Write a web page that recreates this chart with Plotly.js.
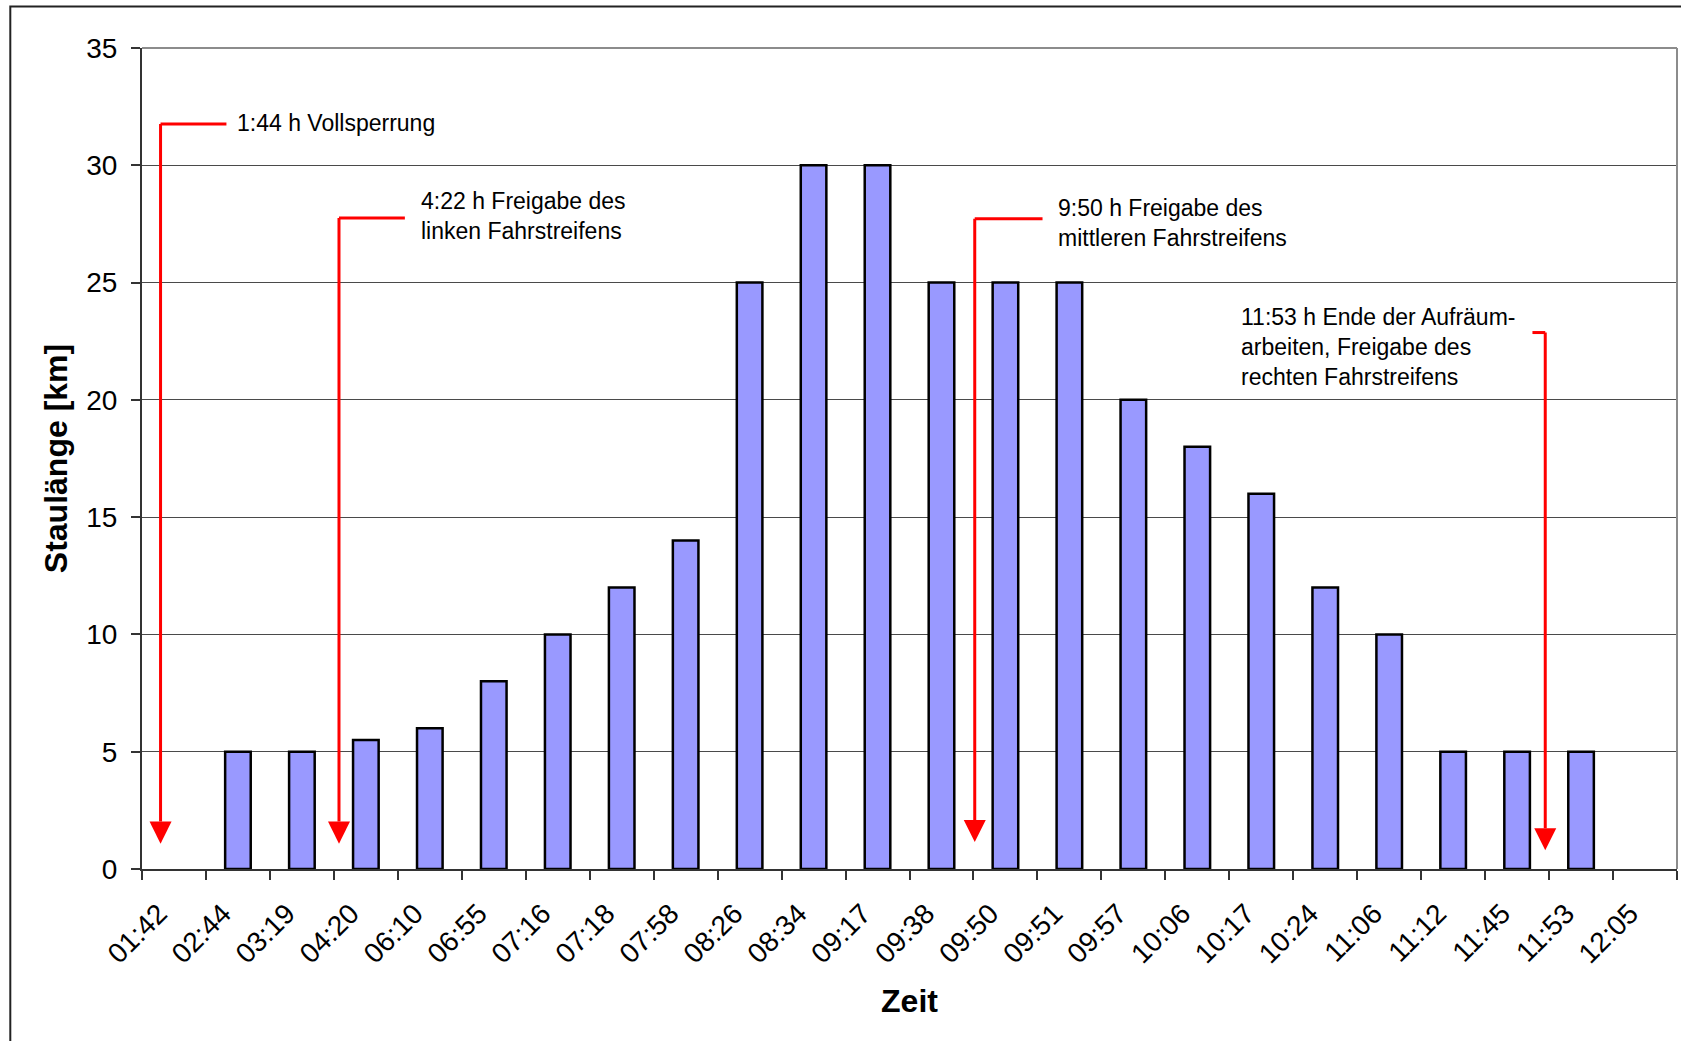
<!DOCTYPE html>
<html>
<head>
<meta charset="utf-8">
<script src="https://cdn.plot.ly/plotly-3.0.1.min.js"></script>
<style>
  html, body { margin: 0; padding: 0; background: #ffffff; }
  #chart { width: 1681px; height: 1041px; }
</style>
</head>
<body>
<div id="chart"></div>
<script>
// ---- data ----
const zeiten = ["01:42","02:44","03:19","04:20","06:10","06:55","07:16","07:18","07:58","08:26",
                "08:34","09:17","09:38","09:50","09:51","09:57","10:06","10:17","10:24","11:06",
                "11:12","11:45","11:53","12:05"];
const staulaenge = [null,5,5,5.5,6,8,10,12,14,25,30,30,25,25,25,20,18,16,12,10,5,5,5,null];

// callout texts and where they point (category index scale, km scale)
const calloutTexts = [
  "1:44 h Vollsperrung",
  "4:22 h Freigabe des<br>linken Fahrstreifens",
  "9:50 h Freigabe des<br>mittleren Fahrstreifens",
  "11:53 h Ende der Aufräum-<br>arbeiten, Freigabe des<br>rechten Fahrstreifens"
];
const calloutArrowX = [-0.21, 2.58, 12.52, 21.44];
const calloutElbowX = [0.82, 3.61, 13.58, 21.24];
const calloutTopY   = [31.76, 27.75, 27.72, 22.87];
const calloutTipY   = [1.08, 1.08, 1.15, 0.80];
const calloutTextX  = [0.96, 3.83, 13.79, 16.65];
const calloutTextY  = [31.80, 27.85, 27.52, 22.27];

const FONT = "Arial, 'Liberation Sans', sans-serif";
const RED = "#FF0000";
const headHalfW = 0.172;  // in category units
const headLen = 0.94;     // in km units

const shapes = [];
const annotations = [];
for (let i = 0; i < calloutTexts.length; i++) {
  const ax = calloutArrowX[i];
  const headTop = calloutTipY[i] + headLen;
  shapes.push({type: "line", xref: "x2", yref: "y", x0: ax, x1: calloutElbowX[i],
               y0: calloutTopY[i], y1: calloutTopY[i], line: {color: RED, width: 3}});
  shapes.push({type: "line", xref: "x2", yref: "y", x0: ax, x1: ax,
               y0: calloutTopY[i], y1: headTop, line: {color: RED, width: 3}});
  shapes.push({type: "path", xref: "x2", yref: "y",
               path: "M" + (ax - headHalfW) + "," + headTop + " L" + (ax + headHalfW) + "," + headTop +
                     " L" + ax + "," + calloutTipY[i] + " Z",
               fillcolor: RED, line: {color: RED, width: 0}});
  annotations.push({xref: "x2", yref: "y", x: calloutTextX[i], y: calloutTextY[i],
                    text: calloutTexts[i], showarrow: false, xanchor: "left", yanchor: "middle",
                    align: "left", font: {family: FONT, size: 23, color: "#000000"}});
}
// plot-area border (top & right) and outer chart frame
shapes.push({type: "line", xref: "paper", yref: "paper", x0: 0, x1: 1, y0: 1, y1: 1,
             line: {color: "#8c8c8c", width: 2}});
shapes.push({type: "line", xref: "paper", yref: "paper", x0: 1, x1: 1, y0: 0, y1: 1,
             line: {color: "#8c8c8c", width: 2}});
shapes.push({type: "rect", xref: "paper", yref: "paper", x0: -0.0858, x1: 1.02, y0: -0.26, y1: 1.0507,
             line: {color: "#222222", width: 2}, fillcolor: "rgba(0,0,0,0)"});

const traces = [
  {type: "bar", x: zeiten, y: staulaenge, width: 0.4,
   marker: {color: "#9999FF", line: {color: "#000000", width: 2.5}},
   hoverinfo: "x+y"},
  {type: "scatter", x: [], y: [], xaxis: "x2", yaxis: "y", showlegend: false, hoverinfo: "skip"}
];

const layout = {
  width: 1681, height: 1041,
  margin: {l: 142, r: 4, t: 48, b: 172, pad: 0},
  paper_bgcolor: "#ffffff", plot_bgcolor: "#ffffff",
  showlegend: false,
  font: {family: FONT, color: "#000000"},
  xaxis: {
    type: "category", range: [-0.5, 23.5], tickson: "boundaries",
    ticks: "outside", ticklen: 9, tickwidth: 1.5, tickcolor: "#333333",
    showline: true, linecolor: "#333333", linewidth: 2,
    showgrid: false, tickangle: -45,
    ticklabelstandoff: 15, ticklabelshift: -15,
    tickfont: {family: FONT, size: 28, color: "#000000"},
    title: {text: "<b>Zeit</b>", font: {family: FONT, size: 32, color: "#000000"}, standoff: 21},
    fixedrange: true
  },
  xaxis2: {overlaying: "x", range: [-0.5, 23.5], visible: false, fixedrange: true},
  yaxis: {
    range: [0, 35], dtick: 5, tick0: 0,
    ticks: "outside", ticklen: 9, tickwidth: 1.5, tickcolor: "#333333",
    showline: true, linecolor: "#333333", linewidth: 2,
    showgrid: true, gridcolor: "#4a4a4a", gridwidth: 1, zeroline: false,
    tickfont: {family: FONT, size: 28, color: "#000000"},
    ticklabelstandoff: 8,
    title: {text: "<b>Staulänge [km]</b>", font: {family: FONT, size: 32, color: "#000000"}, standoff: 9},
    fixedrange: true
  },
  shapes: shapes,
  annotations: annotations
};

Plotly.newPlot("chart", traces, layout, {displayModeBar: false, staticPlot: false});
</script>
</body>
</html>
